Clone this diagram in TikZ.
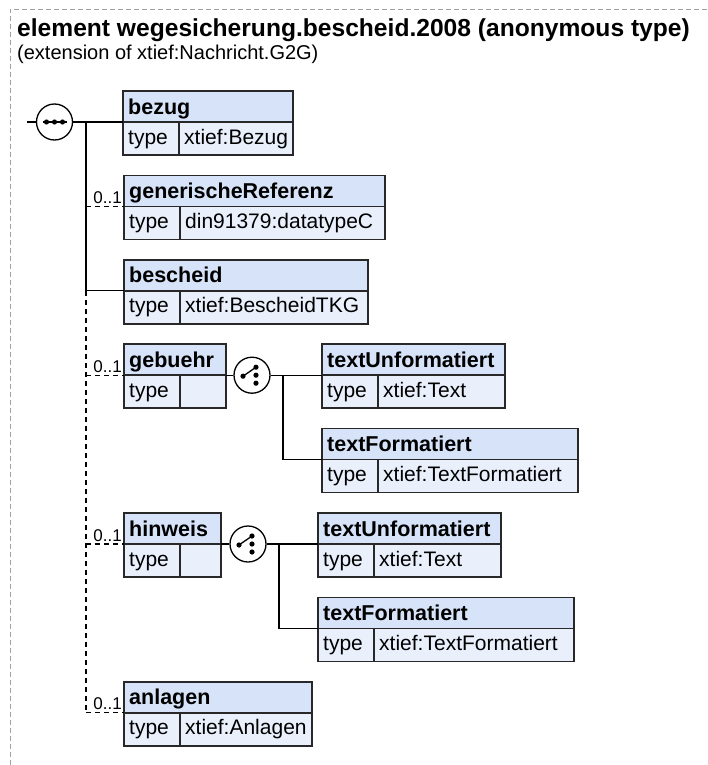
\documentclass[tikz,border=0pt]{standalone}
\usepackage{fontspec}
\setmainfont{Liberation Sans}
\definecolor{hdrc}{RGB}{214,227,248}
\definecolor{bdyc}{RGB}{233,240,252}
\definecolor{boxc}{RGB}{40,40,40}
\definecolor{framec}{RGB}{160,160,160}
\newcommand\xsdbox[6]{% name, x, header-bottom y, width, title, type
  \node[hdr, minimum width=#4pt, anchor=south west] (#1) at (#2,#3) {};
  \node[bdy, minimum width=#4pt, anchor=north west] (#1b) at (#1.south west) {};
  \draw[boxline] ([xshift=56pt]#1b.north west) -- ([xshift=56pt]#1b.south west);
  \node[nametxt, anchor=base west] (#1n) at ([xshift=5pt,yshift=8pt]#1.south west) {#5};
  \node[typetxt, anchor=base west] (#1t) at ([xshift=5pt,yshift=-22pt]#1b.north west) {type};
  \node[typetxt, anchor=base west] (#1v) at ([xshift=61pt,yshift=-22pt]#1b.north west) {#6};
}
\begin{document}
\begin{tikzpicture}[x=1pt,y=-1pt,
  hdr/.style={rectangle, draw=boxc, line width=1.5pt, fill=hdrc, minimum height=31pt, inner sep=0pt, outer sep=0pt},
  bdy/.style={rectangle, draw=boxc, line width=1.5pt, fill=bdyc, minimum height=33pt, inner sep=0pt, outer sep=0pt},
  boxline/.style={draw=boxc, line width=1.5pt},
  conn/.style={draw=black, line width=1.3pt},
  opt/.style={conn, dash pattern=on 5pt off 4pt},
  nametxt/.style={font=\fontsize{21.5}{24}\selectfont\bfseries, inner sep=0pt},
  typetxt/.style={font=\fontsize{21}{24}\selectfont, inner sep=0pt},
  card/.style={font=\fontsize{17}{19}\selectfont, inner sep=0pt},
  compositor/.style={circle, draw=black, fill=white, line width=1.3pt, minimum size=36pt, inner sep=0pt},
  dot/.style={fill=black}
  ]
\useasboundingbox (0,0) rectangle (707,765);
% frame
\draw[framec, line width=0.9pt, dash pattern=on 5pt off 3pt] (707,9) -- (10,9) -- (10,765);
% title
\node[anchor=base west, inner sep=0pt, font=\fontsize{24.6}{28}\selectfont\bfseries] (title) at (17,37) {element wegesicherung.bescheid.2008 (anonymous type)};
\node[anchor=base west, inner sep=0pt, font=\fontsize{20}{23}\selectfont] (subtitle) at (17,60) {(extension of xtief:Nachricht.G2G)};

% boxes
\xsdbox{bezug}{123}{122}{170}{bezug}{xtief:Bezug}
\xsdbox{genref}{124}{206.4}{261}{generischeReferenz}{din91379:datatypeC}
\xsdbox{bescheid}{124}{290.8}{244}{bescheid}{xtief:BescheidTKG}
\xsdbox{gebuehr}{124}{375.2}{102}{gebuehr}{}
\xsdbox{tua}{322}{375.2}{183}{textUnformatiert}{xtief:Text}
\xsdbox{tfa}{322}{459.6}{256}{textFormatiert}{xtief:TextFormatiert}
\xsdbox{hinweis}{124}{544}{97}{hinweis}{}
\xsdbox{tub}{318}{544}{183}{textUnformatiert}{xtief:Text}
\xsdbox{tfb}{318}{628.4}{256}{textFormatiert}{xtief:TextFormatiert}
\xsdbox{anlagen}{124}{712.8}{188}{anlagen}{xtief:Anlagen}

% sequence compositor
\coordinate (start) at (27,122);
\node[compositor] (seq) at (54.5,122) {};
\draw[conn] (start) -- (seq.west);
\draw[conn] ([xshift=-12pt]seq.center) -- ([xshift=12pt]seq.center);
\fill[dot] ([xshift=-8pt]seq.center) circle (2.6pt);
\fill[dot] (seq.center) circle (2.6pt);
\fill[dot] ([xshift=8pt]seq.center) circle (2.6pt);
\draw[conn] (seq.east) -- (bezug.south west);
\coordinate (v0) at (86,122);
\draw[conn] (v0) -- (v0 |- bescheid.south west) -- (bescheid.south west);
\draw[opt] (v0 |- bescheid.south west) -- (v0 |- anlagen.south west);
\draw[opt] (v0 |- genref.south west) -- (genref.south west);
\draw[opt] (v0 |- gebuehr.south west) -- (gebuehr.south west);
\draw[opt] (v0 |- hinweis.south west) -- (hinweis.south west);
\draw[opt] (v0 |- anlagen.south west) -- (anlagen.south west);
\node[card, anchor=base east] (cg) at ([xshift=-2pt,yshift=3pt]genref.south west) {0..1};
\node[card, anchor=base east] (cb) at ([xshift=-2pt,yshift=3pt]gebuehr.south west) {0..1};
\node[card, anchor=base east] (ch) at ([xshift=-2pt,yshift=3pt]hinweis.south west) {0..1};
\node[card, anchor=base east] (ca) at ([xshift=-2pt,yshift=3pt]anlagen.south west) {0..1};

% choice compositors
\node[compositor] (cha) at (252,375.2) {};
\node[compositor] (chb) at (248,544) {};
\foreach \c in {cha,chb}{
  \draw[conn] ([shift={(-9pt,-1pt)}]\c.center) -- ([shift={(4pt,8pt)}]\c.center);
  \fill[dot] ([shift={(-9pt,-1pt)}]\c.center) circle (2.6pt);
  \fill[dot] ([shift={(4pt,8pt)}]\c.center) circle (2.6pt);
  \fill[dot] ([shift={(4pt,0pt)}]\c.center) circle (2.6pt);
  \fill[dot] ([shift={(4pt,-8pt)}]\c.center) circle (2.6pt);
}
\draw[conn] (gebuehr.south east) -- (cha.west);
\draw[conn] (cha.east) -- (tua.south west);
\coordinate (va) at (283,375.2);
\draw[conn] (va) -- (va |- tfa.south west) -- (tfa.south west);
\draw[conn] (hinweis.south east) -- (chb.west);
\draw[conn] (chb.east) -- (tub.south west);
\coordinate (vb) at (279,544);
\draw[conn] (vb) -- (vb |- tfb.south west) -- (tfb.south west);
\end{tikzpicture}
\end{document}
